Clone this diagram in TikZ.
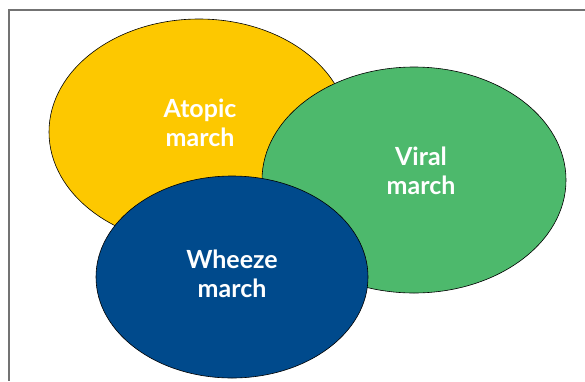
\documentclass[tikz,border=0pt]{standalone}
\usepackage{fontspec}
\setmainfont{Lato}
\usetikzlibrary{shapes.geometric}

\definecolor{atopico}{RGB}{253,200,0}
\definecolor{viral}{RGB}{77,185,108}
\definecolor{sibilancia}{RGB}{0,74,140}

\tikzset{
  mancha/.style={ellipse, draw=black, line width=0.6pt, inner sep=0pt},
  etiqueta/.style={text=white, align=center, anchor=base,
    font=\fontsize{25}{28.5}\selectfont\bfseries}
}

\begin{document}
\begin{tikzpicture}[x=1pt,y=-1pt]
  \useasboundingbox (0,0) rectangle (585,381);
  % Marco
  \draw[black!55, line width=1.4pt] (585,10) -- (9,10) -- (9,381);

  % Nodos
  \node[mancha, fill=atopico, minimum width=300pt, minimum height=226pt] (0) at (199,132) {};
  \node[mancha, fill=viral, minimum width=304pt, minimum height=226pt] (1) at (414,180) {};
  \node[mancha, fill=sibilancia, minimum width=272pt, minimum height=202pt] (2) at (232,277) {};

  \node[etiqueta] (t0) at (200,146) {Atopic\\march};
  \node[etiqueta] (t1) at (421,194) {Viral\\march};
  \node[etiqueta] (t2) at (232,297) {Wheeze\\march};
\end{tikzpicture}
\end{document}
